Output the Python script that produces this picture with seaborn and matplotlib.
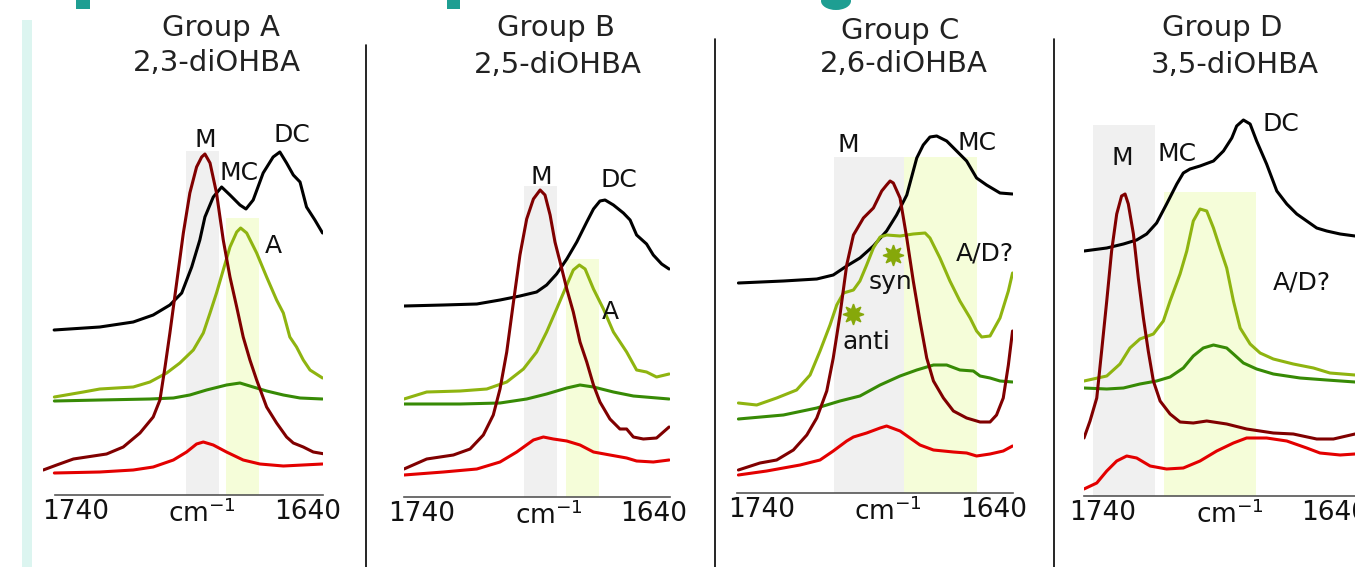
import matplotlib
matplotlib.use("Agg")
import matplotlib.pyplot as plt
from matplotlib.patches import Rectangle, Ellipse
from matplotlib.lines import Line2D
import seaborn as sns

# ---- data (wavenumber in cm-1, absorbance in arbitrary offset units) ----
# Group A, 2,3-diOHBA
A_black_w = [1749.4, 1729.7, 1715.3, 1706.7, 1699.5, 1694.4, 1690.1, 1686.6, 1684.4, 1680.8, 1677.2, 1673.6,
             1669.3, 1666.7, 1663.6, 1659.3, 1655.0, 1652.1, 1649.2, 1646.3, 1643.4, 1640.6, 1637.0, 1633.7]
A_black_y = [1.65, 1.68, 1.73, 1.80, 1.90, 2.02, 2.28, 2.55, 2.78, 2.98, 3.08, 3.00,
             2.90, 2.86, 2.95, 3.22, 3.38, 3.43, 3.32, 3.20, 3.13, 2.88, 2.75, 2.62]
A_lgreen_w = [1749.3, 1736.8, 1729.7, 1715.3, 1708.1, 1700.9, 1695.2, 1689.4, 1685.1, 1682.2, 1679.4, 1676.5,
              1673.6, 1670.7, 1669.0, 1666.4, 1662.1, 1657.8, 1653.5, 1650.6, 1647.8, 1644.9, 1642.0, 1639.1, 1633.7]
A_lgreen_y = [0.98, 1.03, 1.06, 1.08, 1.13, 1.22, 1.32, 1.45, 1.62, 1.82, 2.02, 2.25,
              2.48, 2.63, 2.67, 2.62, 2.42, 2.18, 1.95, 1.82, 1.58, 1.48, 1.35, 1.25, 1.17]
A_dgreen_w = [1749.3, 1729.7, 1708.1, 1698.0, 1690.9, 1683.7, 1675.1, 1669.3, 1663.6, 1657.8, 1650.6, 1643.4, 1633.7]
A_dgreen_y = [0.94, 0.95, 0.96, 0.97, 1.00, 1.05, 1.10, 1.12, 1.08, 1.04, 1.00, 0.97, 0.96]
A_dred_w = [1754.1, 1748.3, 1741.1, 1735.4, 1726.8, 1719.6, 1712.4, 1706.7, 1703.8, 1701.6, 1699.5, 1696.6,
            1693.7, 1690.9, 1688.0, 1685.8, 1684.4, 1682.2, 1679.4, 1676.5, 1673.6, 1670.7, 1667.9, 1665.0,
            1662.1, 1657.8, 1653.5, 1649.2, 1646.3, 1642.0, 1637.7, 1632.7]
A_dred_y = [0.25, 0.30, 0.36, 0.38, 0.41, 0.48, 0.62, 0.78, 0.95, 1.28, 1.62, 2.12,
            2.62, 3.02, 3.28, 3.38, 3.41, 3.32, 3.02, 2.55, 2.18, 1.88, 1.58, 1.35,
            1.15, 0.88, 0.72, 0.58, 0.52, 0.48, 0.43, 0.41]
A_red_w = [1749.3, 1729.7, 1715.3, 1706.7, 1698.0, 1692.3, 1688.0, 1685.1, 1680.8, 1675.1, 1667.9, 1660.7, 1650.6, 1633.7]
A_red_y = [0.22, 0.23, 0.25, 0.28, 0.35, 0.43, 0.51, 0.53, 0.50, 0.43, 0.35, 0.31, 0.29, 0.31]

# Group B, 2,5-diOHBA
B_black_w = [1747.8, 1730.8, 1716.4, 1706.4, 1697.8, 1690.6, 1686.3, 1682.0, 1677.6, 1673.3, 1669.0, 1666.1,
             1663.3, 1661.1, 1657.5, 1653.2, 1650.3, 1647.5, 1643.2, 1640.3, 1636.7, 1633.5]
B_black_y = [1.91, 1.92, 1.93, 1.97, 2.01, 2.05, 2.12, 2.23, 2.38, 2.55, 2.75, 2.88,
             2.96, 2.97, 2.92, 2.84, 2.77, 2.62, 2.53, 2.42, 2.33, 2.28]
B_lgreen_w = [1747.8, 1738.0, 1723.6, 1712.1, 1703.5, 1696.3, 1690.6, 1686.3, 1682.0, 1677.6, 1674.8, 1672.2,
              1669.7, 1666.1, 1661.8, 1657.5, 1651.8, 1647.5, 1643.2, 1638.9, 1633.5]
B_lgreen_y = [0.98, 1.05, 1.06, 1.08, 1.15, 1.28, 1.45, 1.65, 1.88, 2.12, 2.27, 2.32,
              2.28, 2.08, 1.88, 1.65, 1.45, 1.27, 1.25, 1.20, 1.23]
B_dgreen_w = [1747.8, 1723.6, 1706.4, 1694.9, 1686.3, 1677.6, 1671.9, 1666.1, 1657.5, 1648.9, 1633.5]
B_dgreen_y = [0.93, 0.93, 0.94, 0.98, 1.03, 1.09, 1.12, 1.10, 1.05, 1.01, 0.98]
B_dred_w = [1747.8, 1738.0, 1726.5, 1719.3, 1713.6, 1709.3, 1706.4, 1703.5, 1700.6, 1697.8, 1694.9, 1692.0,
            1689.1, 1687.0, 1684.8, 1682.7, 1680.5, 1677.6, 1674.8, 1671.9, 1669.0, 1666.1, 1663.3, 1659.0,
            1654.7, 1651.8, 1648.9, 1644.6, 1638.9, 1633.5]
B_dred_y = [0.28, 0.38, 0.42, 0.48, 0.62, 0.82, 1.08, 1.45, 1.95, 2.42, 2.78, 2.98,
            3.07, 3.02, 2.82, 2.55, 2.35, 2.08, 1.85, 1.55, 1.35, 1.12, 0.95, 0.78,
            0.68, 0.68, 0.60, 0.58, 0.59, 0.70]
B_red_w = [1747.8, 1730.8, 1716.4, 1706.4, 1699.2, 1692.0, 1687.7, 1683.4, 1677.6, 1671.9, 1666.1, 1659.0,
           1651.8, 1647.5, 1640.3, 1633.5]
B_red_y = [0.22, 0.25, 0.28, 0.35, 0.45, 0.57, 0.60, 0.58, 0.56, 0.52, 0.45, 0.42, 0.39, 0.36, 0.35, 0.37]

# Group C, 2,6-diOHBA
C_black_w = [1750.2, 1730.8, 1716.4, 1709.3, 1703.5, 1697.8, 1692.0, 1686.3, 1682.0, 1677.6, 1673.3, 1670.5,
             1667.6, 1664.7, 1660.4, 1656.1, 1651.8, 1647.5, 1643.2, 1637.4, 1632.0]
C_black_y = [2.10, 2.12, 2.14, 2.18, 2.27, 2.35, 2.47, 2.62, 2.78, 2.98, 3.35, 3.48,
             3.56, 3.57, 3.52, 3.42, 3.32, 3.15, 3.08, 3.00, 2.99]
C_lgreen_w = [1750.2, 1742.3, 1733.7, 1725.1, 1719.3, 1715.0, 1710.7, 1707.8, 1704.9, 1700.6, 1697.8, 1694.9,
              1692.0, 1689.1, 1686.3, 1680.5, 1674.8, 1669.7, 1667.6, 1663.3, 1659.0, 1654.7, 1650.3, 1647.5,
              1645.3, 1641.7, 1637.4, 1633.8, 1632.0]
C_lgreen_y = [0.90, 0.88, 0.95, 1.03, 1.18, 1.42, 1.68, 1.88, 2.00, 2.03, 2.12, 2.28,
              2.45, 2.56, 2.58, 2.57, 2.59, 2.60, 2.55, 2.35, 2.12, 1.92, 1.75, 1.62,
              1.56, 1.57, 1.75, 2.02, 2.20]
C_dgreen_w = [1750.2, 1730.8, 1716.4, 1706.4, 1697.8, 1689.1, 1680.5, 1673.3, 1666.1, 1660.4, 1654.7, 1648.9,
              1646.0, 1641.7, 1637.4, 1632.0]
C_dgreen_y = [0.74, 0.78, 0.85, 0.92, 0.97, 1.08, 1.17, 1.23, 1.28, 1.28, 1.23, 1.22, 1.17, 1.15, 1.12, 1.11]
C_dred_w = [1750.2, 1740.9, 1733.7, 1726.5, 1720.7, 1716.4, 1712.1, 1709.3, 1706.4, 1703.5, 1700.6, 1696.3,
            1692.0, 1688.4, 1686.3, 1684.8, 1683.4, 1680.5, 1677.6, 1674.8, 1671.9, 1669.0, 1666.1, 1661.8,
            1657.5, 1651.8, 1646.0, 1641.7, 1638.9, 1636.0, 1633.8, 1632.0]
C_dred_y = [0.23, 0.30, 0.33, 0.43, 0.58, 0.75, 1.02, 1.35, 1.78, 2.28, 2.58, 2.75,
            2.85, 3.02, 3.08, 3.12, 3.10, 2.95, 2.55, 2.12, 1.72, 1.35, 1.12, 0.95,
            0.82, 0.75, 0.71, 0.71, 0.78, 0.95, 1.28, 1.62]
C_red_w = [1750.2, 1738.0, 1723.6, 1715.0, 1709.3, 1703.5, 1700.6, 1694.9, 1689.1, 1686.3, 1680.5, 1676.2,
           1671.9, 1666.1, 1657.5, 1651.8, 1647.5, 1641.7, 1636.0, 1632.0]
C_red_y = [0.18, 0.22, 0.28, 0.33, 0.42, 0.52, 0.56, 0.60, 0.65, 0.67, 0.62, 0.55,
           0.48, 0.43, 0.41, 0.40, 0.37, 0.39, 0.42, 0.47]

# Group D, 3,5-diOHBA
D_black_w = [1748.2, 1738.4, 1731.2, 1725.5, 1721.2, 1716.9, 1712.6, 1708.2, 1705.4, 1702.5, 1698.2, 1692.4,
             1688.1, 1684.5, 1682.4, 1679.5, 1676.6, 1673.8, 1669.5, 1665.1, 1660.8, 1656.5, 1652.2, 1647.9,
             1643.6, 1637.8, 1631.4]
D_black_y = [2.45, 2.48, 2.52, 2.56, 2.62, 2.73, 2.92, 3.12, 3.23, 3.27, 3.30, 3.35,
             3.45, 3.58, 3.70, 3.76, 3.72, 3.55, 3.32, 3.05, 2.92, 2.82, 2.75, 2.68,
             2.65, 2.62, 2.60]
D_lgreen_w = [1748.2, 1738.4, 1732.7, 1728.4, 1724.1, 1718.3, 1714.0, 1711.1, 1706.8, 1703.9, 1701.1, 1698.2,
              1695.3, 1692.4, 1689.6, 1686.7, 1683.8, 1680.9, 1676.6, 1672.3, 1666.6, 1658.0, 1649.3, 1642.2, 1631.4]
D_lgreen_y = [1.15, 1.20, 1.32, 1.48, 1.57, 1.62, 1.75, 1.95, 2.22, 2.45, 2.75, 2.87,
              2.85, 2.68, 2.48, 2.28, 1.95, 1.68, 1.52, 1.43, 1.37, 1.32, 1.28, 1.23, 1.21]
D_dgreen_w = [1748.2, 1738.4, 1731.2, 1724.1, 1716.9, 1711.1, 1705.4, 1701.1, 1696.8, 1692.4, 1686.7, 1683.8,
              1679.5, 1673.8, 1666.6, 1655.1, 1643.6, 1631.4]
D_dgreen_y = [1.08, 1.07, 1.08, 1.12, 1.15, 1.19, 1.28, 1.40, 1.48, 1.51, 1.48, 1.42,
              1.33, 1.27, 1.22, 1.18, 1.16, 1.14]
D_dred_w = [1748.2, 1745.6, 1742.7, 1740.6, 1738.4, 1736.3, 1734.1, 1732.0, 1730.5, 1729.1, 1726.9, 1724.8,
            1722.6, 1720.5, 1718.3, 1715.4, 1711.1, 1706.8, 1701.1, 1695.3, 1686.7, 1678.1, 1666.6, 1658.0,
            1647.9, 1640.7, 1631.4]
D_dred_y = [0.58, 0.75, 0.98, 1.45, 1.95, 2.45, 2.82, 3.00, 3.02, 2.92, 2.62, 2.18,
            1.78, 1.45, 1.15, 0.95, 0.82, 0.74, 0.73, 0.75, 0.72, 0.67, 0.63, 0.62,
            0.57, 0.57, 0.62]
D_red_w = [1748.2, 1742.7, 1738.4, 1734.1, 1729.8, 1725.5, 1719.7, 1712.6, 1705.4, 1698.2, 1691.0, 1683.8,
           1678.1, 1669.5, 1660.8, 1652.2, 1646.5, 1637.8, 1631.4]
D_red_y = [0.07, 0.13, 0.25, 0.35, 0.40, 0.38, 0.30, 0.27, 0.28, 0.35, 0.45, 0.53,
           0.58, 0.58, 0.55, 0.48, 0.43, 0.41, 0.42]

groups = ["Group A", "Group B", "Group C", "Group D"]
compounds = ["2,3-diOHBA", "2,5-diOHBA", "2,6-diOHBA", "3,5-diOHBA"]

# shaded bands: (from, to, top)
gray_bands = [(1692.6, 1678.4, 3.44), (1696.0, 1681.8, 3.11), (1709.0, 1678.8, 3.36), (1744.3, 1717.6, 3.71)]
yellow_bands = [(1675.3, 1661.1, 2.77), (1677.9, 1663.7, 2.38), (1678.8, 1647.3, 3.36), (1713.7, 1674.1, 3.04)]

# peak labels: (text, wavenumber, absorbance)
labels_A = [("M", 1684.4, 3.55), ("MC", 1669.7, 3.22), ("DC", 1646.9, 3.60), ("A", 1655.1, 2.49)]
labels_B = [("M", 1688.4, 3.20), ("DC", 1655.1, 3.17), ("A", 1659.0, 1.85)]
labels_C = [("M", 1702.9, 3.48), ("MC", 1647.3, 3.50), ("A/D?", 1643.9, 2.40), ("syn", 1684.8, 2.11), ("anti", 1695.2, 1.51)]
labels_D = [("M", 1731.9, 3.38), ("MC", 1708.2, 3.42), ("DC", 1663.4, 3.72), ("A/D?", 1654.4, 2.14)]
star_w = [1683.5, 1700.8]
star_y = [2.38, 1.79]

# ---- style ----
sns.set_style("white")
plt.rcParams["font.family"] = ["DejaVu Sans"]

line_colors = ["#000000", "#8fb410", "#378a05", "#800000", "#e30000"]

W, H = 1355, 567
fig = plt.figure(figsize=(W / 100, H / 100), dpi=100)

# panel geometry in pixels: left, right, axis line y
frames = [(43, 323, 495), (404, 670, 497), (737, 1013, 493), (1084, 1355, 496)]
xlims = [(1754.2, 1633.5), (1747.8, 1633.1), (1750.8, 1631.8), (1748.2, 1631.4)]
spine_start = [1749.0, 1747.8, 1750.8, 1748.2]
title_pos = [((221, 28), (217, 63)), ((556, 28), (558, 65)), ((900, 31), (904, 64)), ((1222, 28), (1235, 65))]

curves = [
    [(A_black_w, A_black_y), (A_lgreen_w, A_lgreen_y), (A_dgreen_w, A_dgreen_y), (A_dred_w, A_dred_y), (A_red_w, A_red_y)],
    [(B_black_w, B_black_y), (B_lgreen_w, B_lgreen_y), (B_dgreen_w, B_dgreen_y), (B_dred_w, B_dred_y), (B_red_w, B_red_y)],
    [(C_black_w, C_black_y), (C_lgreen_w, C_lgreen_y), (C_dgreen_w, C_dgreen_y), (C_dred_w, C_dred_y), (C_red_w, C_red_y)],
    [(D_black_w, D_black_y), (D_lgreen_w, D_lgreen_y), (D_dgreen_w, D_dgreen_y), (D_dred_w, D_dred_y), (D_red_w, D_red_y)],
]
peak_labels = [labels_A, labels_B, labels_C, labels_D]

top_px = 95
for i in range(4):
    left, right, base = frames[i]
    ax = fig.add_axes([left / W, 1 - base / H, (right - left) / W, (base - top_px) / H])
    ax.set_xlim(*xlims[i])
    ax.set_ylim(0, (base - top_px) / 100)

    g0, g1, gt = gray_bands[i]
    ax.fill_between([g0, g1], 0, gt, color="#f0f0f0", lw=0, zorder=0)
    y0, y1, yt = yellow_bands[i]
    ax.fill_between([y0, y1], 0, yt, color="#f5fdd9", lw=0, zorder=0)

    for (w, y), c in zip(curves[i], line_colors):
        sns.lineplot(x=w, y=y, ax=ax, color=c, lw=2.2, estimator=None, sort=False, zorder=3,
                     solid_joinstyle="round", solid_capstyle="round")

    for txt, w, y in peak_labels[i]:
        ax.text(w, y, txt, ha="center", va="center", fontsize=18, color="#111111", zorder=5)

    if i == 2:
        ax.plot(star_w, star_y, ls="none", marker=(8, 1, 0), ms=15, color="#86a80a", zorder=6)

    for s in ["top", "left", "right"]:
        ax.spines[s].set_visible(False)
    ax.spines["bottom"].set_color("#555555")
    ax.spines["bottom"].set_linewidth(1.2)
    ax.spines["bottom"].set_bounds(spine_start[i], xlims[i][1])
    ax.set_yticks([])
    ax.set_xticks([1740, 1685.5, 1640])
    ax.set_xticklabels(["1740", "cm$^{-1}$", "1640"])
    ax.tick_params(axis="x", length=0, pad=3, labelsize=19, labelcolor="#111111")
    ax.set_xlabel("")
    ax.set_ylabel("")
    ax.patch.set_alpha(0)

    (gx, gy), (cx, cy) = title_pos[i]
    fig.text(gx / W, 1 - gy / H, groups[i], ha="center", va="center", fontsize=21, color="#222222")
    fig.text(cx / W, 1 - cy / H, compounds[i], ha="center", va="center", fontsize=21, color="#222222")

# panel separators
for x, y_top in [(366, 45), (715, 39), (1054, 39)]:
    fig.add_artist(Line2D([x / W, x / W], [0, 1 - y_top / H], color="black", lw=1.2, transform=fig.transFigure))

# decoration: light teal bar at left and clipped title fragments at top
fig.add_artist(Rectangle((22 / W, 0), 10 / W, 1 - 20 / H, transform=fig.transFigure, color="#dcf5f0", lw=0))
fig.add_artist(Rectangle((76 / W, 1 - 9 / H), 14 / W, 9 / H, transform=fig.transFigure, color="#1e9e92", lw=0))
fig.add_artist(Rectangle((447 / W, 1 - 9 / H), 13 / W, 9 / H, transform=fig.transFigure, color="#1e9e92", lw=0))
fig.add_artist(Ellipse((836 / W, 1 - 1 / H), 30 / W, 18 / H, transform=fig.transFigure, color="#1e9e92", lw=0))

fig.savefig("out.png", dpi=100)
